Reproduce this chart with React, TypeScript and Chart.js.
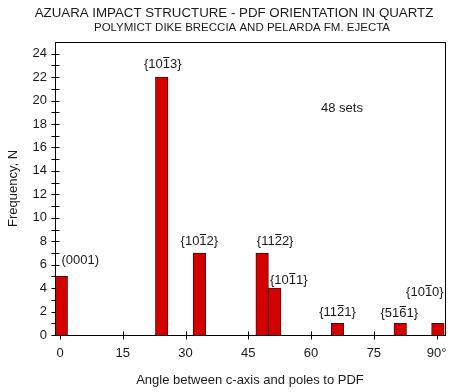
import React, { useEffect, useRef } from "react";
import { Chart, registerables } from "chart.js";

Chart.register(...registerables);

// ---- data ----
const binCenters = [0.3, 24.3, 33.3, 48.3, 51.3, 66.3, 81.3, 90.3];
const frequencies = [5, 22, 7, 7, 4, 1, 1, 1];
// label parts: [before, barred, after]
const planeLabels: [string, string, string][] = [
  ["(0001)", "", ""],
  ["{10", "1", "3}"],
  ["{10", "1", "2}"],
  ["{11", "2", "2}"],
  ["{10", "1", "1}"],
  ["{11", "2", "1}"],
  ["{51", "6", "1}"],
  ["{10", "1", "0}"],
];
const xTickValues = [0, 15, 30, 45, 60, 75, 90];
const yTickValues = [0, 2, 4, 6, 8, 10, 12, 14, 16, 18, 20, 22, 24];
const titleText = "AZUARA IMPACT STRUCTURE - PDF ORIENTATION IN QUARTZ";
const subtitleText = "POLYMICT DIKE BRECCIA AND PELARDA FM. EJECTA";
const annotationText = "48 sets";

// ---- label placement (pixel offsets from bar top-center) ----
const labelOffsets: [number, number][] = [
  [19, -16],
  [1, -13],
  [0, -12],
  [13, -12],
  [14, -8],
  [0, -11],
  [-1, -10],
  [-13, -31],
];

const FONT = "'Liberation Sans', Arial, Helvetica, sans-serif";
const TEXT = "#1a1a1a";

const decorPlugin = {
  id: "decor",
  beforeDatasetsDraw(chart: any) {
    const { ctx, scales } = chart;
    const xs = scales.x;
    const ys = scales.y;
    ctx.save();
    ctx.strokeStyle = "#000";
    ctx.lineWidth = 1;
    ctx.beginPath();
    const ax = Math.round(xs.left) + 0.5;
    for (let v = 0; v <= 24; v++) {
      const py = Math.round(ys.getPixelForValue(v)) + 0.5;
      ctx.moveTo(ax - 4, py);
      ctx.lineTo(ax + 4, py);
    }
    const ay = Math.round(ys.bottom) + 0.5;
    for (const v of xTickValues) {
      const px = Math.round(xs.getPixelForValue(v)) + 0.5;
      ctx.moveTo(px, ay - 4);
      ctx.lineTo(px, ay + 4);
    }
    ctx.stroke();
    ctx.restore();
  },
  afterDraw(chart: any) {
    const { ctx, chartArea, scales } = chart;
    const xs = scales.x;
    const ys = scales.y;
    ctx.save();
    // frame
    ctx.strokeStyle = "#000";
    ctx.lineWidth = 1;
    ctx.strokeRect(
      Math.round(chartArea.left) + 0.5,
      Math.round(chartArea.top) + 0.5,
      Math.round(chartArea.right - chartArea.left),
      Math.round(chartArea.bottom - chartArea.top)
    );
    // titles
    ctx.fillStyle = TEXT;
    ctx.textAlign = "center";
    ctx.textBaseline = "middle";
    ctx.font = `13.3px ${FONT}`;
    ctx.fillText(titleText, 234, 13);
    ctx.font = `11.5px ${FONT}`;
    ctx.fillText(subtitleText, 242, 28);
    ctx.font = `13px ${FONT}`;
    ctx.fillText(annotationText, 342, 108);

    // bar labels
    ctx.font = `13px ${FONT}`;
    ctx.textAlign = "left";
    ctx.textBaseline = "middle";
    ctx.strokeStyle = TEXT;
    ctx.lineWidth = 1;
    for (let i = 0; i < binCenters.length; i++) {
      const [a, b, c] = planeLabels[i];
      const cx = xs.getPixelForValue(binCenters[i]) + labelOffsets[i][0];
      const cy = ys.getPixelForValue(frequencies[i]) + labelOffsets[i][1];
      const wa = ctx.measureText(a).width;
      const wb = ctx.measureText(b).width;
      const wc = ctx.measureText(c).width;
      let x = cx - (wa + wb + wc) / 2;
      ctx.fillText(a, x, cy);
      x += wa;
      if (b) {
        ctx.fillText(b, x, cy);
        const ly = Math.round(cy - 7) + 0.5;
        ctx.beginPath();
        ctx.moveTo(x + 0.5, ly);
        ctx.lineTo(x + wb - 0.5, ly);
        ctx.stroke();
        x += wb;
      }
      if (c) ctx.fillText(c, x, cy);
    }
    ctx.restore();
  },
};

export default function App() {
  const canvasRef = useRef<HTMLCanvasElement | null>(null);

  useEffect(() => {
    const canvas = canvasRef.current;
    if (!canvas) return;
    const chart = new Chart(canvas, {
      type: "bar",
      data: {
        datasets: [
          {
            data: binCenters.map((x, i) => ({ x, y: frequencies[i] })),
            backgroundColor: "#d30000",
            borderColor: "#5c0000",
            borderWidth: 1,
            barPercentage: 1,
            categoryPercentage: 1,
          },
        ],
      },
      options: {
        animation: false,
        responsive: false,
        maintainAspectRatio: false,
        layout: { padding: { top: 42, right: 15, left: 0, bottom: 0 } },
        plugins: {
          legend: { display: false },
          tooltip: { enabled: false },
          title: { display: false },
        },
        scales: {
          x: {
            type: "linear",
            offset: false,
            min: -1.2,
            max: 92,
            grid: { display: false, drawTicks: false, offset: false },
            border: { display: false },
            afterBuildTicks: (s: any) => {
              s.ticks = xTickValues.map((v) => ({ value: v }));
            },
            afterFit: (s: any) => {
              s.height = 57;
            },
            ticks: {
              color: TEXT,
              font: { family: FONT, size: 13 },
              padding: 11,
              maxRotation: 0,
              autoSkip: false,
              callback: (v: any) => (v === 90 ? "90°" : String(v)),
            },
            title: {
              display: true,
              text: "Angle between c-axis and poles to PDF",
              color: TEXT,
              font: { family: FONT, size: 13 },
              padding: { top: 0, bottom: 4 },
            },
          },
          y: {
            type: "linear",
            min: 0,
            max: 25,
            grid: { display: false, drawTicks: false },
            border: { display: false },
            afterBuildTicks: (s: any) => {
              s.ticks = yTickValues.map((v) => ({ value: v }));
            },
            afterFit: (s: any) => {
              s.width = 55;
            },
            ticks: {
              color: TEXT,
              font: { family: FONT, size: 13 },
              padding: 8,
              autoSkip: false,
            },
            title: {
              display: true,
              text: "Frequency, N",
              color: TEXT,
              font: { family: FONT, size: 13 },
              padding: { top: 6, bottom: 0 },
            },
          },
        },
      },
      plugins: [decorPlugin],
    });
    return () => chart.destroy();
  }, []);

  return (
    <div style={{ position: "fixed", left: 0, top: 0, width: 460, height: 392, background: "#fff" }}>
      <canvas ref={canvasRef} width={460} height={392} style={{ width: 460, height: 392, display: "block" }} />
    </div>
  );
}
